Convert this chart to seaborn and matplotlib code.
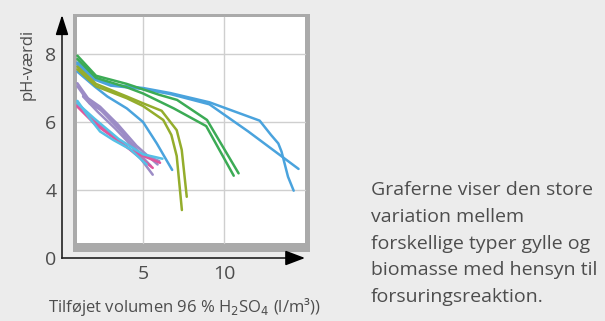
import numpy as np
import pandas as pd
import seaborn as sns
import matplotlib
matplotlib.use("Agg")
import matplotlib.pyplot as plt
from matplotlib.patches import Rectangle

# ---- data ----
blue_a_x = [0.95, 2.1, 3.0, 5.0, 6.7, 9.1, 12.2, 12.9, 13.35, 13.55, 13.95, 14.3]
blue_a_y = [7.75, 7.28, 7.1, 7.0, 6.85, 6.58, 6.04, 5.62, 5.37, 5.13, 4.39, 3.98]
blue_b_x = [0.95, 2.0, 3.0, 5.0, 6.7, 9.1, 11.5, 14.6]
blue_b_y = [7.7, 7.25, 7.07, 6.97, 6.82, 6.52, 5.72, 4.62]
blue_c_x = [0.95, 2.0, 2.8, 4.0, 5.0, 5.85, 6.8]
blue_c_y = [7.48, 7.05, 6.75, 6.4, 6.0, 5.37, 4.59]

green_a_x = [0.95, 2.1, 4.0, 6.0, 7.1, 8.95, 10.9]
green_a_y = [7.95, 7.36, 7.12, 6.8, 6.65, 6.06, 4.49]
green_b_x = [0.95, 2.1, 4.0, 5.0, 6.9, 8.9, 10.6]
green_b_y = [7.85, 7.3, 7.02, 6.84, 6.4, 5.88, 4.42]

olive_a_x = [0.95, 2.1, 4.0, 5.0, 6.15, 7.08, 7.39, 7.7]
olive_a_y = [7.63, 7.12, 6.75, 6.55, 6.33, 5.76, 5.18, 3.8]
olive_b_x = [0.95, 2.1, 4.0, 5.0, 6.25, 6.75, 7.08, 7.4]
olive_b_y = [7.55, 7.05, 6.7, 6.47, 6.06, 5.62, 5.0, 3.41]

purple_a_x = [0.95, 1.6, 2.35, 3.4, 4.5, 5.6]
purple_a_y = [7.14, 6.7, 6.45, 5.95, 5.15, 4.45]
purple_b_x = [0.95, 1.7, 2.4, 3.5, 4.6, 5.9]
purple_b_y = [7.05, 6.55, 6.35, 5.9, 5.3, 4.75]
purple_c_x = [1.3, 2.3, 3.6, 4.8, 6.0]
purple_c_y = [6.8, 6.4, 5.75, 5.1, 4.85]
purple_d_x = [1.3, 2.2, 3.3, 4.5, 5.5]
purple_d_y = [6.75, 6.3, 5.8, 5.2, 4.7]

pink_a_x = [0.95, 2.2, 3.5, 5.6]
pink_a_y = [6.5, 5.95, 5.45, 4.65]
pink_b_x = [0.95, 2.0, 3.3, 4.5, 6.05]
pink_b_y = [6.45, 5.95, 5.5, 5.1, 4.8]

cyan_a_x = [0.95, 1.63, 2.35, 3.17, 4.2, 5.23]
cyan_a_y = [6.62, 6.16, 5.72, 5.47, 5.2, 4.75]
cyan_b_x = [0.95, 2.0, 3.5, 5.0, 6.2]
cyan_b_y = [6.55, 6.1, 5.5, 5.05, 4.92]

y_ticks = [2, 4, 6, 8]
y_tick_labels = ["0", "4", "6", "8"]
x_ticks = [5, 10]
x_tick_labels = ["5", "10"]

caption_lines = ["Graferne viser den store", "variation mellem",
                 "forskellige typer gylle og", "biomasse med hensyn til",
                 "forsuringsreaktion."]

curves = [
    ("blue_a", "blue", blue_a_x, blue_a_y),
    ("blue_b", "blue", blue_b_x, blue_b_y),
    ("blue_c", "blue", blue_c_x, blue_c_y),
    ("green_a", "green", green_a_x, green_a_y),
    ("green_b", "green", green_b_x, green_b_y),
    ("olive_a", "olive", olive_a_x, olive_a_y),
    ("olive_b", "olive", olive_b_x, olive_b_y),
    ("purple_a", "purple", purple_a_x, purple_a_y),
    ("purple_b", "purple", purple_b_x, purple_b_y),
    ("purple_c", "purple", purple_c_x, purple_c_y),
    ("purple_d", "purple", purple_d_x, purple_d_y),
    ("pink_a", "pink", pink_a_x, pink_a_y),
    ("pink_b", "pink", pink_b_x, pink_b_y),
    ("cyan_a", "cyan", cyan_a_x, cyan_a_y),
    ("cyan_b", "cyan", cyan_b_x, cyan_b_y),
]
rows = []
for name, grp, xs, ys in curves:
    for i, (xv, yv) in enumerate(zip(xs, ys)):
        rows.append({"curve": name, "group": grp, "order": i, "x": xv, "y": yv})
df = pd.DataFrame(rows)

palette = {
    "blue": "#4aa3dd",
    "green": "#3cab55",
    "olive": "#94ad2c",
    "purple": "#9c8cc6",
    "pink": "#e0579c",
    "cyan": "#55c0e6",
}

# ---- figure ----
sns.set_theme(style="white")
plt.rcParams["font.family"] = ["Open Sans", "DejaVu Sans"]
BG = "#ececec"
TXT = "#4d4d4d"

fig = plt.figure(figsize=(6.05, 3.21), dpi=100, facecolor=BG)
ax = fig.add_axes([62 / 605, 63 / 321, 249.5 / 605, 7.4 * 34 / 321])
ax.set_facecolor(BG)
ax.set_xlim(0, 15.4)
ax.set_ylim(2, 9.4)

# framed panel
ax.add_patch(Rectangle((0.68, 2.18), 15.31 - 0.68, 9.18 - 2.18,
                       facecolor="#aaaaaa", edgecolor="none", zorder=0))
ax.add_patch(Rectangle((0.93, 2.44), 15.0 - 0.93, 9.09 - 2.44,
                       facecolor="white", edgecolor="none", zorder=0.5))
for yv in [4, 6, 8]:
    ax.plot([0.93, 15.0], [yv, yv], color="#cfcfcf", lw=1.0, zorder=0.8)
for xv in [5, 10]:
    ax.plot([xv, xv], [2.44, 9.09], color="#cfcfcf", lw=1.0, zorder=0.8)

sns.lineplot(data=df, x="x", y="y", hue="group", units="curve",
             estimator=None, sort=False, palette=palette, lw=1.8,
             legend=False, ax=ax, zorder=2)

# axes
for s in ["top", "right"]:
    ax.spines[s].set_visible(False)
for s in ["left", "bottom"]:
    ax.spines[s].set_color("#222222")
    ax.spines[s].set_linewidth(1.2)
ax.spines["left"].set_bounds(2, 9.0)
ax.spines["bottom"].set_bounds(0, 14.5)
ax.annotate("", xy=(15.0, 2), xytext=(13.9, 2),
            arrowprops=dict(arrowstyle="-|>,head_length=1.0,head_width=0.38",
                            color="black", lw=1.2, shrinkA=0, shrinkB=0),
            annotation_clip=False)
ax.annotate("", xy=(0, 9.15), xytext=(0, 8.6),
            arrowprops=dict(arrowstyle="-|>,head_length=1.0,head_width=0.32",
                            color="black", lw=1.2, shrinkA=0, shrinkB=0),
            annotation_clip=False)

ax.set_yticks(y_ticks)
ax.set_yticklabels(y_tick_labels)
ax.set_xticks(x_ticks)
ax.set_xticklabels(x_tick_labels)
ax.tick_params(axis="both", length=0, labelsize=14, labelcolor=TXT)
ax.tick_params(axis="y", pad=4)
ax.tick_params(axis="x", pad=5)
ax.grid(False)

ax.set_ylabel("pH-værdi", fontsize=12, color=TXT)
ax.yaxis.set_label_coords(-0.105, 0.77)
ax.set_xlabel("Tilføjet volumen 96 % H$_2$SO$_4$ (l/m³))", fontsize=12, color=TXT)
ax.xaxis.set_label_coords(0.49, -0.15)

for i, line in enumerate(caption_lines):
    fig.text(371 / 605, 1 - (190 + i * 26.8) / 321, line, fontsize=14,
             color=TXT, ha="left", va="center")

fig.savefig("out.png", dpi=100, facecolor=BG)
